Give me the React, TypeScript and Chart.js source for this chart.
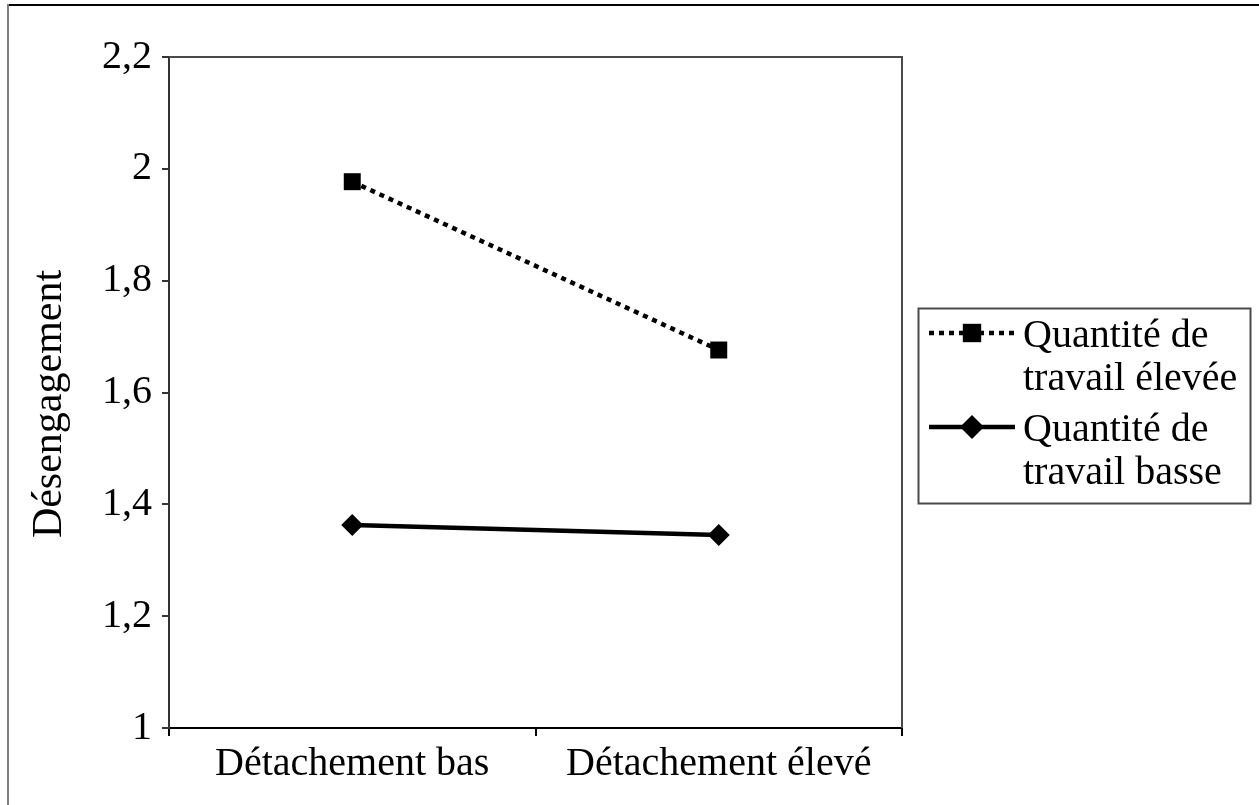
import { useEffect, useRef } from 'react';
import { Chart, registerables } from 'chart.js';

Chart.register(...registerables);

// Categories, series and labels
const categories = ['Détachement bas', 'Détachement élevé'];
const quantiteElevee = [1.977, 1.676];
const quantiteBasse = [1.363, 1.345];
const legendElevee = ['Quantité de', 'travail élevée'];
const legendBasse = ['Quantité de', 'travail basse'];
const yTitle = 'Désengagement';
const yMin = 1;
const yMax = 2.2;
const yStep = 0.2;

const WIDTH = 1259;
const HEIGHT = 805;
const FONT_FAMILY = '"Liberation Serif", "Times New Roman", serif';
const FONT_SIZE = 40;
const TITLE_SIZE = 42;

const formatTick = (v: number) => String(Math.round(v * 10) / 10).replace('.', ',');

function drawMarker(ctx: CanvasRenderingContext2D, style: string, x: number, y: number, r: number) {
  ctx.beginPath();
  if (style === 'rect') {
    const s = Math.SQRT1_2 * r;
    ctx.rect(x - s, y - s, 2 * s, 2 * s);
  } else {
    ctx.moveTo(x, y - r);
    ctx.lineTo(x + r, y);
    ctx.lineTo(x, y + r);
    ctx.lineTo(x - r, y);
    ctx.closePath();
  }
  ctx.fill();
}

// Outer frame, plot frame, y-axis title and the boxed legend
const decorPlugin = {
  id: 'decor',
  beforeDraw(chart: any) {
    const { ctx } = chart;
    ctx.save();
    ctx.fillStyle = '#ffffff';
    ctx.fillRect(0, 0, chart.width, chart.height);
    ctx.fillStyle = '#000000';
    ctx.fillRect(8, 4, chart.width - 8, 2);
    ctx.fillStyle = '#808080';
    ctx.fillRect(7, 4, 2, chart.height - 4);
    ctx.restore();
  },
  beforeDatasetsDraw(chart: any) {
    const { ctx, chartArea } = chart;
    const { left, top, right, bottom } = chartArea;
    ctx.save();
    ctx.strokeStyle = '#4a4a4a';
    ctx.lineWidth = 2;
    ctx.beginPath();
    ctx.moveTo(left, top);
    ctx.lineTo(right, top);
    ctx.lineTo(right, bottom);
    ctx.stroke();
    ctx.restore();
  },
  afterDraw(chart: any) {
    const { ctx } = chart;
    ctx.save();

    // y-axis title
    ctx.save();
    ctx.translate(50, 404);
    ctx.rotate(-Math.PI / 2);
    ctx.font = `${TITLE_SIZE}px ${FONT_FAMILY}`;
    ctx.fillStyle = '#000';
    ctx.textAlign = 'center';
    ctx.textBaseline = 'middle';
    ctx.fillText(yTitle, 0, 0);
    ctx.restore();

    // legend
    const bx = 918;
    const by = 308;
    const bw = 332;
    const bh = 195;
    ctx.strokeStyle = '#4a4a4a';
    ctx.lineWidth = 2;
    ctx.strokeRect(bx + 0.5, by + 0.5, bw, bh);

    const entries = [
      { ds: chart.data.datasets[0], lines: legendElevee, y: 333 },
      { ds: chart.data.datasets[1], lines: legendBasse, y: 427 },
    ];
    ctx.font = `${FONT_SIZE}px ${FONT_FAMILY}`;
    ctx.textBaseline = 'alphabetic';
    ctx.textAlign = 'left';
    for (const e of entries) {
      ctx.strokeStyle = '#000';
      ctx.lineWidth = e.ds.borderWidth;
      ctx.setLineDash(e.ds.borderDash || []);
      ctx.beginPath();
      ctx.moveTo(929, e.y);
      ctx.lineTo(1015, e.y);
      ctx.stroke();
      ctx.setLineDash([]);
      ctx.fillStyle = '#000';
      drawMarker(ctx, e.ds.pointStyle, 972, e.y, e.ds.pointRadius + 1);
      e.lines.forEach((t: string, i: number) => {
        ctx.fillText(t, 1023, e.y + 14 + i * 43);
      });
    }
    ctx.restore();
  },
};

export default function App() {
  const canvasRef = useRef<HTMLCanvasElement | null>(null);

  useEffect(() => {
    const canvas = canvasRef.current;
    if (!canvas) return;
    const font = { family: FONT_FAMILY, size: FONT_SIZE };
    const chart = new Chart(canvas, {
      type: 'line',
      data: {
        labels: categories,
        datasets: [
          {
            label: legendElevee.join(' '),
            data: quantiteElevee,
            borderColor: '#000',
            backgroundColor: '#000',
            borderWidth: 4.5,
            borderDash: [5, 5],
            pointStyle: 'rect',
            pointRadius: 12,
            pointBorderWidth: 0,
            pointBackgroundColor: '#000',
          },
          {
            label: legendBasse.join(' '),
            data: quantiteBasse,
            borderColor: '#000',
            backgroundColor: '#000',
            borderWidth: 4.5,
            pointStyle: 'rectRot',
            pointRadius: 11,
            pointBorderWidth: 0,
            pointBackgroundColor: '#000',
          },
        ] as any,
      },
      options: {
        responsive: false,
        animation: false,
        devicePixelRatio: 1,
        layout: { padding: { top: 57, right: 357, bottom: 0, left: 0 } },
        plugins: {
          legend: { display: false },
          tooltip: { enabled: false },
        },
        scales: {
          x: {
            type: 'category',
            offset: true,
            grid: {
              display: true,
              offset: true,
              drawOnChartArea: false,
              drawTicks: true,
              tickLength: 8,
              color: '#000',
              lineWidth: 2,
            },
            border: { display: true, color: '#000', width: 2 },
            ticks: { font, color: '#000', padding: 4, maxRotation: 0, autoSkip: false },
            afterFit: (s: any) => {
              s.height = 77;
            },
          },
          y: {
            min: yMin,
            max: yMax,
            grid: {
              display: true,
              drawOnChartArea: false,
              drawTicks: true,
              tickLength: 7,
              color: '#333',
              lineWidth: 2,
            },
            border: { display: true, color: '#333', width: 2 },
            ticks: {
              stepSize: yStep,
              font,
              color: '#000',
              padding: 10,
              callback: (v: any) => formatTick(Number(v)),
            },
            afterFit: (s: any) => {
              s.width = 169;
            },
          },
        },
      },
      plugins: [decorPlugin],
    });
    return () => chart.destroy();
  }, []);

  return (
    <div style={{ position: 'fixed', left: 0, top: 0, width: WIDTH, height: HEIGHT, background: '#fff' }}>
      <canvas ref={canvasRef} width={WIDTH} height={HEIGHT} style={{ display: 'block' }} />
    </div>
  );
}
